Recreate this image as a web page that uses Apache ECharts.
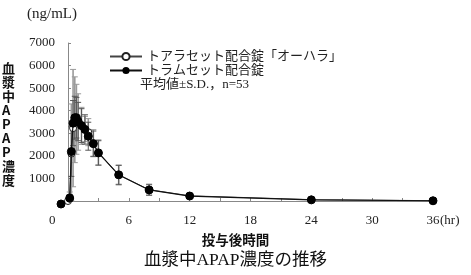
<!DOCTYPE html>
<html>
<head>
<meta charset="utf-8">
<script src="https://cdn.jsdelivr.net/npm/echarts@6/dist/echarts.min.js"></script>
<style>
html,body{margin:0;padding:0;background:#fff;}
#c{width:471px;height:275px;}
</style>
</head>
<body>
<div id="c"></div>
<script>
const times = [0, 0.17, 0.33, 0.5, 0.67, 0.83, 1, 1.33, 1.67, 2, 2.5, 3, 5, 8, 12, 24, 36];
const oharaMean = [0, 100, 2100, 3230, 3600, 3620, 3500, 3330, 3190, 3050, 2560, 2150, 1150, 500, 230, 60, 15];
const oharaSD = [0, 300, 2200, 2600, 1900, 1550, 1250, 820, 560, 600, 600, 560, 440, 250, 110, 40, 10];
const tramMean = [0, 130, 2190, 3450, 3690, 3690, 3520, 3340, 3170, 2870, 2540, 2130, 1160, 490, 220, 50, 10];
const tramSD = [0, 150, 1100, 1000, 950, 900, 850, 750, 650, 620, 560, 540, 420, 230, 100, 30, 10];
const seriesNames = ['トアラセット配合錠「オーハラ」', 'トラムセット配合錠'];
const noteText = '平均値±S.D.，n=53';
const yTicks = [1000, 2000, 3000, 4000, 5000, 6000, 7000];
const xLabelTicks = [6, 12, 18, 24, 30, 36];

const serif = "'Liberation Serif','Noto Sans CJK JP',serif";
const gothic = "'Noto Sans CJK JP','DejaVu Sans',sans-serif";

function errData(mean, sd) {
  return times.map((t, i) => [t, Math.max(0, mean[i] - sd[i]), mean[i] + sd[i]]);
}
function errRender(color, lw) {
  return function (params, api) {
    const x = api.value(0), lo = api.value(1), hi = api.value(2);
    if (hi - lo <= 0) return null;
    const p1 = api.coord([x, lo]), p2 = api.coord([x, hi]);
    const w = 3;
    const style = { stroke: color, lineWidth: lw };
    return {
      type: 'group',
      children: [
        { type: 'line', shape: { x1: p1[0], y1: p1[1], x2: p2[0], y2: p2[1] }, style },
        { type: 'line', shape: { x1: p1[0] - w, y1: p1[1], x2: p1[0] + w, y2: p1[1] }, style: { stroke: color, lineWidth: 1 } },
        { type: 'line', shape: { x1: p2[0] - w, y1: p2[1], x2: p2[0] + w, y2: p2[1] }, style: { stroke: color, lineWidth: 1 } }
      ]
    };
  };
}

const chart = echarts.init(document.getElementById('c'), null, { renderer: 'canvas' });
chart.setOption({
  animation: false,
  grid: { left: 68, right: 38, top: 43, bottom: 74 },
  legend: {
    orient: 'vertical', left: 104, top: 45,
    itemWidth: 32, itemHeight: 9, itemGap: 1,
    textStyle: { fontFamily: serif, fontSize: 13, color: '#222' },
    data: seriesNames
  },
  xAxis: {
    type: 'value', min: 0, max: 36, interval: 3,
    axisLine: { lineStyle: { color: '#888', width: 1 } },
    axisTick: { inside: true, length: 3, lineStyle: { color: '#888' } },
    splitLine: { show: false },
    axisLabel: {
      margin: 13, fontFamily: serif, fontSize: 13, color: '#222',
      formatter: v => xLabelTicks.includes(v) ? String(v) : ''
    }
  },
  yAxis: {
    type: 'value', min: 0, max: 7000, interval: 1000,
    axisLine: { show: true, lineStyle: { color: '#888', width: 1 } },
    axisTick: { show: true, inside: true, length: 3, lineStyle: { color: '#888' } },
    splitLine: { show: false },
    axisLabel: {
      margin: 13, fontFamily: serif, fontSize: 13, color: '#222',
      formatter: v => yTicks.includes(v) ? String(v) : ''
    }
  },
  series: [
    {
      type: 'custom', name: 'err1', renderItem: errRender('#9a9a9a', 1.6),
      data: errData(oharaMean, oharaSD), z: 2, silent: true,
      encode: { x: 0, y: [1, 2] }
    },
    {
      type: 'custom', name: 'err2', renderItem: errRender('#555', 1),
      data: errData(tramMean, tramSD), z: 3, silent: true,
      encode: { x: 0, y: [1, 2] }
    },
    {
      type: 'line', name: seriesNames[0], z: 4, clip: false,
      data: times.map((t, i) => [t, oharaMean[i]]),
      symbol: 'circle', symbolSize: 7, showAllSymbol: true,
      lineStyle: { color: '#444', width: 1 },
      itemStyle: { color: '#fff', borderColor: '#222', borderWidth: 1 }
    },
    {
      type: 'line', name: seriesNames[1], z: 5, clip: false,
      data: times.map((t, i) => i === 0 ? { value: [t, tramMean[i]], symbolOffset: [-7, 3] } : [t, tramMean[i]]),
      symbol: 'circle', symbolSize: 8, showAllSymbol: true,
      lineStyle: { color: '#111', width: 1.2 },
      itemStyle: { color: '#000', borderColor: '#000' }
    }
  ],
  graphic: [
    { type: 'text', left: 27, top: 7, style: { text: '(ng/mL)', font: '15px ' + serif, fill: '#222' } },
    { type: 'text', left: 140, top: 78, style: { text: noteText, font: '13px ' + serif, fill: '#222' } },
    { type: 'text', left: 49, top: 214, style: { text: '0', font: '13px ' + serif, fill: '#222' } },
    { type: 'text', left: 440, top: 214, style: { text: '(hr)', font: '13px ' + serif, fill: '#222' } },
    { type: 'text', left: 2, top: 61, style: { text: '血\n漿\n中\nA\nP\nA\nP\n濃\n度', font: 'bold 13px ' + gothic, fill: '#111', align: 'center', lineHeight: 14, width: 14 }, x: 7 },
    { type: 'text', left: 'center', top: 233, style: { text: '投与後時間', font: 'bold 13.5px ' + gothic, fill: '#111' }, x: 10 },
    { type: 'text', left: 'center', top: 252, style: { text: '血漿中APAP濃度の推移', font: '17.5px ' + serif, fill: '#111' } }
  ]
});
</script>
</body>
</html>
